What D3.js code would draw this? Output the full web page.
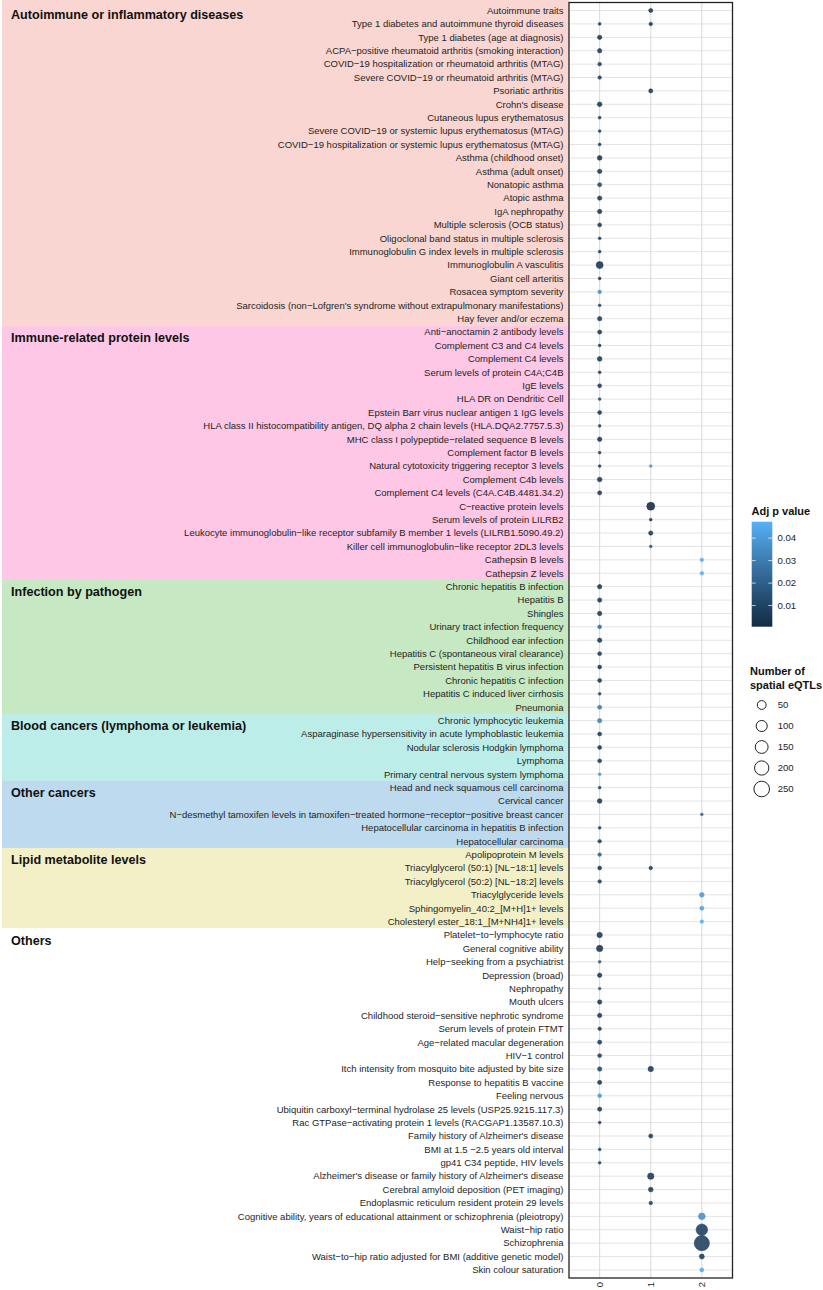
<!DOCTYPE html>
<html>
<meta charset="utf-8">
<style>
    body {
        margin: 0;
        background: #fff;
    }
    text {
        font-family: "Liberation Sans", Arial, Helvetica, sans-serif;
    }
    .lab {
        font-size: 9.5px;
        fill: #1e1e1e;
    }
    .head {
        font-size: 12.6px;
        font-weight: bold;
        fill: #111;
    }
    .ltitle {
        font-size: 11px;
        font-weight: bold;
        fill: #111;
    }
    .ltext {
        font-size: 9.6px;
        fill: #1e1e1e;
    }
</style>
<body>
<script src="https://cdn.jsdelivr.net/npm/d3@7"></script>
<div id="chart"></div>
<script>
// trait groups, top to bottom, and how many traits each has
var groupNames = ["Autoimmune or inflammatory diseases", "Immune-related protein levels", "Infection by pathogen",
    "Blood cancers (lymphoma or leukemia)", "Other cancers", "Lipid metabolite levels", "Others"];
var groupCounts = [24, 19, 10, 5, 5, 6, 26];
var groupFill = ["#f9d6d1", "#fdc7e5", "#c6e8c2", "#bdede8", "#bddaef", "#f3f0c8", "#ffffff"];

var traits = [
    "Autoimmune traits",
    "Type 1 diabetes and autoimmune thyroid diseases",
    "Type 1 diabetes (age at diagnosis)",
    "ACPA\u2212positive rheumatoid arthritis (smoking interaction)",
    "COVID\u221219 hospitalization or rheumatoid arthritis (MTAG)",
    "Severe COVID\u221219 or rheumatoid arthritis (MTAG)",
    "Psoriatic arthritis",
    "Crohn's disease",
    "Cutaneous lupus erythematosus",
    "Severe COVID\u221219 or systemic lupus erythematosus (MTAG)",
    "COVID\u221219 hospitalization or systemic lupus erythematosus (MTAG)",
    "Asthma (childhood onset)",
    "Asthma (adult onset)",
    "Nonatopic asthma",
    "Atopic asthma",
    "IgA nephropathy",
    "Multiple sclerosis (OCB status)",
    "Oligoclonal band status in multiple sclerosis",
    "Immunoglobulin G index levels in multiple sclerosis",
    "Immunoglobulin A vasculitis",
    "Giant cell arteritis",
    "Rosacea symptom severity",
    "Sarcoidosis (non\u2212Lofgren's syndrome without extrapulmonary manifestations)",
    "Hay fever and/or eczema",
    "Anti\u2212anoctamin 2 antibody levels",
    "Complement C3 and C4 levels",
    "Complement C4 levels",
    "Serum levels of protein C4A;C4B",
    "IgE levels",
    "HLA DR on Dendritic Cell",
    "Epstein Barr virus nuclear antigen 1 IgG levels",
    "HLA class II histocompatibility antigen, DQ alpha 2 chain levels (HLA.DQA2.7757.5.3)",
    "MHC class I polypeptide\u2212related sequence B levels",
    "Complement factor B levels",
    "Natural cytotoxicity triggering receptor 3 levels",
    "Complement C4b levels",
    "Complement C4 levels (C4A.C4B.4481.34.2)",
    "C\u2212reactive protein levels",
    "Serum levels of protein LILRB2",
    "Leukocyte immunoglobulin\u2212like receptor subfamily B member 1 levels (LILRB1.5090.49.2)",
    "Killer cell immunoglobulin\u2212like receptor 2DL3 levels",
    "Cathepsin B levels",
    "Cathepsin Z levels",
    "Chronic hepatitis B infection",
    "Hepatitis B",
    "Shingles",
    "Urinary tract infection frequency",
    "Childhood ear infection",
    "Hepatitis C (spontaneous viral clearance)",
    "Persistent hepatitis B virus infection",
    "Chronic hepatitis C infection",
    "Hepatitis C induced liver cirrhosis",
    "Pneumonia",
    "Chronic lymphocytic leukemia",
    "Asparaginase hypersensitivity in acute lymphoblastic leukemia",
    "Nodular sclerosis Hodgkin lymphoma",
    "Lymphoma",
    "Primary central nervous system lymphoma",
    "Head and neck squamous cell carcinoma",
    "Cervical cancer",
    "N\u2212desmethyl tamoxifen levels in tamoxifen\u2212treated hormone\u2212receptor\u2212positive breast cancer",
    "Hepatocellular carcinoma in hepatitis B infection",
    "Hepatocellular carcinoma",
    "Apolipoprotein M levels",
    "Triacylglycerol (50:1) [NL\u221218:1] levels",
    "Triacylglycerol (50:2) [NL\u221218:2] levels",
    "Triacylglyceride levels",
    "Sphingomyelin_40:2_[M+H]1+ levels",
    "Cholesteryl ester_18:1_[M+NH4]1+ levels",
    "Platelet\u2212to\u2212lymphocyte ratio",
    "General cognitive ability",
    "Help\u2212seeking from a psychiatrist",
    "Depression (broad)",
    "Nephropathy",
    "Mouth ulcers",
    "Childhood steroid\u2212sensitive nephrotic syndrome",
    "Serum levels of protein FTMT",
    "Age\u2212related macular degeneration",
    "HIV\u22121 control",
    "Itch intensity from mosquito bite adjusted by bite size",
    "Response to hepatitis B vaccine",
    "Feeling nervous",
    "Ubiquitin carboxyl\u2212terminal hydrolase 25 levels (USP25.9215.117.3)",
    "Rac GTPase\u2212activating protein 1 levels (RACGAP1.13587.10.3)",
    "Family history of Alzheimer's disease",
    "BMI at 1.5 \u22122.5 years old interval",
    "gp41 C34 peptide, HIV levels",
    "Alzheimer's disease or family history of Alzheimer's disease",
    "Cerebral amyloid deposition (PET imaging)",
    "Endoplasmic reticulum resident protein 29 levels",
    "Cognitive ability, years of educational attainment or schizophrenia (pleiotropy)",
    "Waist\u2212hip ratio",
    "Schizophrenia",
    "Waist\u2212to\u2212hip ratio adjusted for BMI (additive genetic model)",
    "Skin colour saturation"
];

var xLevels = [0, 1, 2];

// [trait index, x level, number of spatial eQTLs, adj p value]
var dots = [
    [0, 1, 4, 0.006], [1, 0, 1, 0.006], [1, 1, 2, 0.006], [2, 0, 5, 0.005], [3, 0, 5, 0.006],
    [4, 0, 2, 0.008], [5, 0, 2, 0.008], [6, 1, 4, 0.006], [7, 0, 7, 0.006], [8, 0, 1, 0.006],
    [9, 0, 1, 0.006], [10, 0, 1, 0.006], [11, 0, 7, 0.004], [12, 0, 5, 0.006], [13, 0, 4, 0.012],
    [14, 0, 5, 0.006], [15, 0, 5, 0.006], [16, 0, 3, 0.006], [17, 0, 1, 0.006], [18, 0, 1, 0.006],
    [19, 0, 30, 0.004], [20, 0, 1, 0.006], [21, 0, 2, 0.036], [22, 0, 1, 0.01], [23, 0, 5, 0.006],
    [24, 0, 4, 0.006], [25, 0, 1, 0.006], [26, 0, 7, 0.006], [27, 0, 1, 0.006], [28, 0, 3, 0.008],
    [29, 0, 1, 0.012], [30, 0, 3, 0.006], [31, 0, 1, 0.01], [32, 0, 5, 0.006], [33, 0, 1, 0.008],
    [34, 0, 1, 0.008], [34, 1, 1, 0.04], [35, 0, 7, 0.006], [36, 0, 4, 0.006], [37, 1, 45, 0.0006],
    [38, 1, 1, 0.006], [39, 1, 5, 0.006], [40, 1, 1, 0.018], [41, 2, 2, 0.046], [42, 2, 2, 0.046],
    [43, 0, 5, 0.005], [44, 0, 5, 0.006], [45, 0, 5, 0.006], [46, 0, 3, 0.025], [47, 0, 5, 0.006],
    [48, 0, 3, 0.006], [49, 0, 3, 0.006], [50, 0, 3, 0.006], [51, 0, 1, 0.01], [52, 0, 4, 0.03],
    [53, 0, 5, 0.032], [54, 0, 3, 0.006], [55, 0, 3, 0.006], [56, 0, 3, 0.006], [57, 0, 1, 0.04],
    [58, 0, 1, 0.01], [59, 0, 7, 0.005], [60, 2, 1, 0.022], [61, 0, 1, 0.006], [62, 0, 2, 0.008],
    [63, 0, 2, 0.02], [64, 0, 3, 0.006], [64, 1, 2, 0.006], [65, 0, 2, 0.008], [66, 2, 7, 0.04],
    [67, 2, 4, 0.042], [68, 2, 2, 0.0473],
    [69, 0, 12, 0.006], [70, 0, 22, 0.005], [71, 0, 1, 0.018], [72, 0, 5, 0.006], [73, 0, 1, 0.02],
    [74, 0, 5, 0.006], [75, 0, 5, 0.006], [76, 0, 2, 0.006], [77, 0, 4, 0.008], [78, 0, 3, 0.008],
    [79, 0, 5, 0.012], [79, 1, 12, 0.006], [80, 0, 4, 0.006], [81, 0, 3, 0.04], [82, 0, 4, 0.006],
    [83, 0, 1, 0.008], [84, 1, 4, 0.006], [85, 0, 1, 0.01], [86, 0, 1, 0.01], [87, 1, 22, 0.006],
    [88, 1, 7, 0.006], [89, 1, 2, 0.008], [90, 2, 26, 0.036], [91, 2, 128, 0.008], [92, 2, 258, 0.008],
    [93, 2, 9, 0.006], [94, 2, 3, 0.044]
];

var pTicks = [0.01, 0.02, 0.03, 0.04];
var sizeBreaks = [50, 100, 150, 200, 250];

var W = 823, H = 1290;
var panel = {left: 569, right: 732.5, top: 2.5, bottom: 1278};

var svg = d3.select("#chart").append("svg").attr("width", W).attr("height", H);

var y = d3.scalePoint().domain(d3.range(traits.length)).range([panel.top, panel.bottom]).padding(0.6);
var x = d3.scalePoint().domain(xLevels).range([panel.left, panel.right]).padding(0.6);
var step = y.step();

var nMin = d3.min(dots, function(d) { return d[2]; });
var nMax = d3.max(dots, function(d) { return d[2]; });
var r = d3.scaleSqrt().domain([0, nMax - nMin]).range([1.7, 7.9]);
var radius = function(n) { return r(n - nMin); };

var pExt = d3.extent(dots, function(d) { return d[3]; });
var color = d3.scaleLinear().domain(pExt).range(["#132B43", "#56B1F7"]).interpolate(d3.interpolateLab);

// group bands
var start = 0;
groupNames.forEach(function(g, i) {
    var first = start, last = start + groupCounts[i] - 1;
    var top = i == 0 ? 0 : y(first) - step / 2;
    var bot = i == groupNames.length - 1 ? panel.bottom : y(last) + step / 2;
    svg.append("rect").attr("x", 2).attr("y", top).attr("width", panel.left - 2).attr("height", bot - top)
        .attr("fill", groupFill[i]);
    svg.append("text").attr("class", "head").attr("x", 11).attr("y", (i == 0 ? panel.top : top) + 16.5).text(g);
    start += groupCounts[i];
});

// panel
svg.append("rect").attr("x", panel.left).attr("y", panel.top)
    .attr("width", panel.right - panel.left).attr("height", panel.bottom - panel.top).attr("fill", "#fff");

svg.append("g").selectAll("line").data(traits).enter().append("line")
    .attr("x1", panel.left).attr("x2", panel.right)
    .attr("y1", function(d, i) { return y(i); }).attr("y2", function(d, i) { return y(i); })
    .attr("stroke", "#e4e4e4").attr("stroke-width", 1);

svg.append("g").selectAll("line").data(xLevels).enter().append("line")
    .attr("x1", function(d) { return x(d); }).attr("x2", function(d) { return x(d); })
    .attr("y1", panel.top).attr("y2", panel.bottom)
    .attr("stroke", "#d8d8d8").attr("stroke-width", 1);

// trait labels
svg.append("g").selectAll("text").data(traits).enter().append("text")
    .attr("class", "lab")
    .attr("x", panel.left - 5.5)
    .attr("y", function(d, i) { return y(i); })
    .attr("dy", "0.35em")
    .attr("text-anchor", "end")
    .text(function(d) { return d; });

// x labels
svg.append("g").selectAll("text").data(xLevels).enter().append("text")
    .attr("class", "lab")
    .attr("transform", function(d) { return "translate(" + x(d) + "," + (panel.bottom + 4) + ") rotate(-90)"; })
    .attr("dy", "0.35em")
    .attr("text-anchor", "end")
    .text(function(d) { return d; });

// dots
svg.append("g").selectAll("circle").data(dots).enter().append("circle")
    .attr("cx", function(d) { return x(d[1]); })
    .attr("cy", function(d) { return y(d[0]); })
    .attr("r", function(d) { return radius(d[2]) - 0.3; })
    .attr("fill", function(d) { return color(d[3]); })
    .attr("fill-opacity", 0.88)
    .attr("stroke", function(d) { return color(d[3]); })
    .attr("stroke-opacity", 0.88)
    .attr("stroke-width", 0.6);

svg.append("rect").attr("x", panel.left).attr("y", panel.top)
    .attr("width", panel.right - panel.left).attr("height", panel.bottom - panel.top)
    .attr("fill", "none").attr("stroke", "#222").attr("stroke-width", 1.3);

// colour legend
var cb = {x: 751.7, y: 521.7, w: 20.6, h: 105};
svg.append("text").attr("class", "ltitle").attr("x", 751.5).attr("y", 515).text("Adj p value");
var grad = svg.append("defs").append("linearGradient").attr("id", "pgrad")
    .attr("x1", 0).attr("y1", 1).attr("x2", 0).attr("y2", 0);
d3.range(0, 1.0001, 0.1).forEach(function(t) {
    grad.append("stop").attr("offset", t).attr("stop-color", color(pExt[0] + t * (pExt[1] - pExt[0])));
});
svg.append("rect").attr("x", cb.x).attr("y", cb.y).attr("width", cb.w).attr("height", cb.h).attr("fill", "url(#pgrad)");
var cbScale = d3.scaleLinear().domain(pExt).range([cb.y + cb.h, cb.y]);
var ct = svg.append("g").selectAll("g").data(pTicks).enter().append("g");
ct.append("line").attr("x1", cb.x).attr("x2", cb.x + 4)
    .attr("y1", function(d) { return cbScale(d); }).attr("y2", function(d) { return cbScale(d); })
    .attr("stroke", "#fff").attr("stroke-opacity", 0.7);
ct.append("line").attr("x1", cb.x + cb.w - 4).attr("x2", cb.x + cb.w)
    .attr("y1", function(d) { return cbScale(d); }).attr("y2", function(d) { return cbScale(d); })
    .attr("stroke", "#fff").attr("stroke-opacity", 0.7);
ct.append("text").attr("class", "ltext").attr("x", 777.5)
    .attr("y", function(d) { return cbScale(d); }).attr("dy", "0.35em")
    .text(function(d) { return d.toFixed(2); });

// size legend
svg.append("text").attr("class", "ltitle").attr("x", 750).attr("y", 674.5).text("Number of");
svg.append("text").attr("class", "ltitle").attr("x", 750).attr("y", 688.5).text("spatial eQTLs");
var sl = svg.append("g").selectAll("g").data(sizeBreaks).enter().append("g")
    .attr("transform", function(d, i) { return "translate(761.7," + (705 + i * 21) + ")"; });
sl.append("circle").attr("r", function(d) { return radius(d); })
    .attr("fill", "none").attr("stroke", "#222").attr("stroke-width", 1);
sl.append("text").attr("class", "ltext").attr("x", 16).attr("dy", "0.35em").text(function(d) { return d; });
</script>
</body>
</html>
